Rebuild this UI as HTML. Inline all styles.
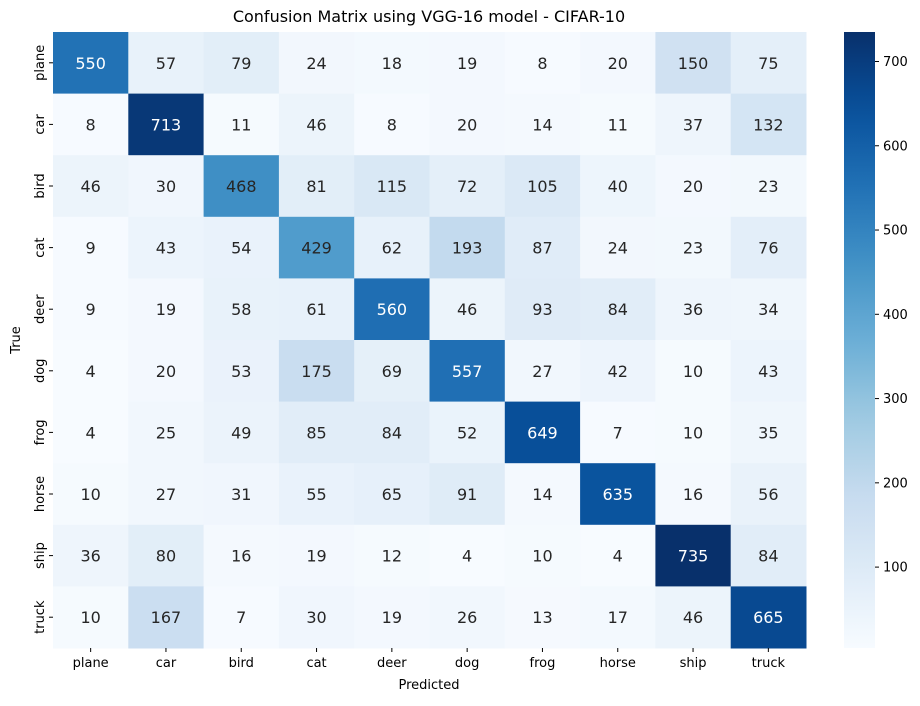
<!DOCTYPE html>
<html><head><meta charset="utf-8"><style>
body{margin:0;background:#fff;}
svg text{font-family:"DejaVu Sans","Liberation Sans",sans-serif;}
</style></head><body>
<svg id="c" width="920" height="701" xmlns="http://www.w3.org/2000/svg">
<text x="429" y="22" text-anchor="middle" font-size="16" fill="#000">Confusion Matrix using VGG-16 model - CIFAR-10</text>
<text x="429" y="689" text-anchor="middle" font-size="13" fill="#000">Predicted</text>
<text transform="translate(20,340) rotate(-90)" text-anchor="middle" font-size="13" fill="#000">True</text>
<g id="cells"></g><g id="xt"></g><g id="yt"></g><g id="cb"></g>
</svg>
<script>
const labels=["plane","car","bird","cat","deer","dog","frog","horse","ship","truck"];
const row0=[550,57,79,24,18,19,8,20,150,75];
const row1=[8,713,11,46,8,20,14,11,37,132];
const row2=[46,30,468,81,115,72,105,40,20,23];
const row3=[9,43,54,429,62,193,87,24,23,76];
const row4=[9,19,58,61,560,46,93,84,36,34];
const row5=[4,20,53,175,69,557,27,42,10,43];
const row6=[4,25,49,85,84,52,649,7,10,35];
const row7=[10,27,31,55,65,91,14,635,16,56];
const row8=[36,80,16,19,12,4,10,4,735,84];
const row9=[10,167,7,30,19,26,13,17,46,665];
const cbTicks=[100,200,300,400,500,600,700];
const matrix=[row0,row1,row2,row3,row4,row5,row6,row7,row8,row9];
const NS="http://www.w3.org/2000/svg";
const X0=53,X1=806,Y0=32,Y1=648;
const cw=(X1-X0)/labels.length, ch=(Y1-Y0)/labels.length;
const all=matrix.flat();const vmin=Math.min(...all),vmax=Math.max(...all);
const stops=["#f7fbff","#deebf7","#c6dbef","#9ecae1","#6baed6","#4292c6","#2171b5","#08519c","#08306b"].map(h=>[1,3,5].map(i=>parseInt(h.substr(i,2),16)));
function cmap(t){t=Math.max(0,Math.min(1,t));const p=t*(stops.length-1);const i=Math.min(Math.floor(p),stops.length-2);const f=p-i;const c=stops[i].map((v,k)=>Math.round(v+(stops[i+1][k]-v)*f));return c;}
function norm(v){return (v-vmin)/(vmax-vmin);}
function el(n,a,p){const e=document.createElementNS(NS,n);for(const k in a)e.setAttribute(k,a[k]);p.appendChild(e);return e;}
const cells=document.getElementById('cells');
matrix.forEach((row,r)=>row.forEach((v,c)=>{
 const col=cmap(norm(v));
 const rect=el('rect',{x:X0+c*cw,y:Y0+r*ch,width:cw+0.5,height:ch+0.5,fill:`rgb(${col})`},cells);
 
 
 const lum=(0.2126*col[0]+0.7152*col[1]+0.0722*col[2])/255;
 const t=el('text',{x:X0+(c+0.5)*cw,y:Y0+(r+0.5)*ch+6,'text-anchor':'middle','font-size':16,fill:lum<0.45?'#fff':'#262626'},cells);
 t.textContent=v;
 
 
}));
const xt=document.getElementById('xt'),yt=document.getElementById('yt');
labels.forEach((l,i)=>{
 const x=X0+(i+0.5)*cw;
 el('line',{x1:x,x2:x,y1:Y1,y2:Y1+4,stroke:'#000'},xt);
 const t=el('text',{x:x,y:Y1+19,'text-anchor':'middle','font-size':13,fill:'#000'},xt);t.textContent=l;
 
 
 const y=Y0+(i+0.5)*ch;
 el('line',{x1:X0-4,x2:X0,y1:y,y2:y,stroke:'#000'},yt);
 const u=el('text',{transform:`translate(${X0-9},${y}) rotate(-90)`,'text-anchor':'middle','font-size':13,fill:'#000'},yt);u.textContent=l;
 
 
});
const cb=document.getElementById('cb');
const CX=844,CW=31;
const defs=el('defs',{},cb);const g=el('linearGradient',{id:'bl',x1:0,y1:1,x2:0,y2:0},defs);
for(let i=0;i<=20;i++){el('stop',{offset:i/20,'stop-color':`rgb(${cmap(i/20)})`},g);}
const bar=el('rect',{x:CX,y:Y0,width:CW,height:Y1-Y0,fill:'url(#bl)'},cb);


cbTicks.forEach(v=>{
 const y=Y1-norm(v)*(Y1-Y0);
 el('line',{x1:CX+CW,x2:CX+CW+4,y1:y,y2:y,stroke:'#000'},cb);
 const t=el('text',{x:CX+CW+8,y:y+4.5,'font-size':13,fill:'#000'},cb);t.textContent=v;
 
 
});
</script>
</body></html>
